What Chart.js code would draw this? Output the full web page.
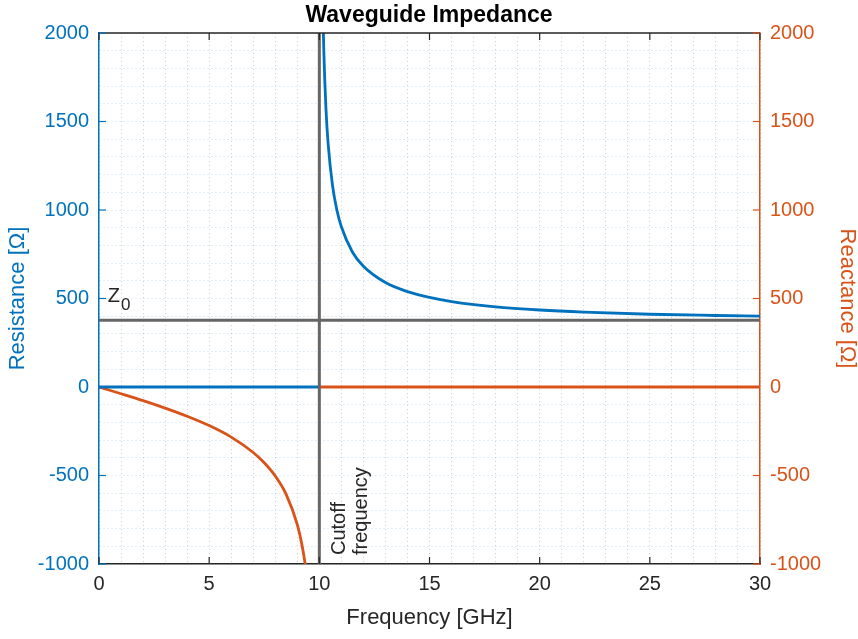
<!DOCTYPE html>
<html>
<head>
<meta charset="utf-8">
<script src="https://cdn.jsdelivr.net/npm/chart.js@4.4.1/dist/chart.umd.min.js"></script>
<style>
  html, body { margin: 0; padding: 0; background: #fff; }
  #wrap { width: 858px; height: 639px; }
</style>
</head>
<body>
<div id="wrap"><canvas id="chart" width="858" height="639"></canvas></div>
<script>
/* ─── Data ─── */
const resFreq  = [0, 10, null, 10.1, 10.15, 10.2, 10.3, 10.4, 10.6, 10.8, 11, 11.5, 12, 13, 14, 15, 16, 18, 20, 22, 25, 28, 30];
const resValue = [0, 0, null, 2700, 2201, 1913, 1574, 1373, 1137, 998, 905, 763, 682, 590, 539, 506, 483, 453, 435, 423, 411, 404, 400];

const reactFreq  = [0, 1, 2, 3, 4, 5, 6, 7, 7.5, 8, 8.5, 9, 9.2, 9.4, 9.6, null, 10, 30];
const reactValue = [0, -38, -77, -119, -165, -218, -283, -370, -428, -503, -608, -778, -885, -1039, -1292, null, 0, 0];

const z0Freq   = [0, 30];
const z0Value  = [377, 377];
const cutFreq  = [10, 10];
const cutValue = [-1000, 2000];

const xTickLabels = [0, 5, 10, 15, 20, 25, 30];
const yTickLabels = [-1000, -500, 0, 500, 1000, 1500, 2000];

const BLUE   = '#0072BD';
const ORANGE = '#D95319';
const GRAY   = '#666666';
const DARK   = '#262626';
const FONT   = "'Liberation Sans', Arial, Helvetica, sans-serif";

function toPoints(xs, ys) {
  return xs.map((x, i) => (x === null ? { x: NaN, y: null } : { x, y: ys[i] }));
}

/* ─── Inward ticks, top box line, text annotations ─── */
const decor = {
  id: 'decor',
  afterDraw(chart) {
    const { ctx, chartArea: a, scales } = chart;
    const sx = scales.x, sy = scales.y;
    const tl = 7;
    ctx.save();

    // top box line
    ctx.strokeStyle = DARK;
    ctx.lineWidth = 1.5;
    ctx.beginPath();
    ctx.moveTo(a.left, a.top);
    ctx.lineTo(a.right, a.top);
    ctx.stroke();

    // x ticks (bottom and top)
    ctx.lineWidth = 1.2;
    xTickLabels.forEach(v => {
      const px = sx.getPixelForValue(v);
      ctx.beginPath();
      ctx.moveTo(px, a.bottom); ctx.lineTo(px, a.bottom - tl);
      ctx.moveTo(px, a.top);    ctx.lineTo(px, a.top + tl);
      ctx.stroke();
    });

    // y ticks, left blue / right orange
    yTickLabels.forEach(v => {
      const py = sy.getPixelForValue(v);
      ctx.strokeStyle = BLUE;
      ctx.beginPath(); ctx.moveTo(a.left, py); ctx.lineTo(a.left + tl, py); ctx.stroke();
      ctx.strokeStyle = ORANGE;
      ctx.beginPath(); ctx.moveTo(a.right, py); ctx.lineTo(a.right - tl, py); ctx.stroke();
    });

    // Z0 label
    const zx = sx.getPixelForValue(0.4);
    const zy = sy.getPixelForValue(377) - 18;
    ctx.fillStyle = DARK;
    ctx.textBaseline = 'alphabetic';
    ctx.textAlign = 'left';
    ctx.font = '20px ' + FONT;
    ctx.fillText('Z', zx, zy);
    const zw = ctx.measureText('Z').width;
    ctx.font = '17px ' + FONT;
    ctx.fillText('0', zx + zw + 1, zy + 8);

    // Cutoff frequency label, rotated
    const cx = sx.getPixelForValue(10) + 26;
    const cy = sy.getPixelForValue(-1000) - 9;
    ctx.translate(cx, cy);
    ctx.rotate(-Math.PI / 2);
    ctx.font = '20px ' + FONT;
    ctx.fillText('Cutoff', 0, 0);
    ctx.fillText('frequency', 0, 22);

    ctx.restore();
  }
};

const lineStyle = {
  pointRadius: 0,
  borderWidth: 2.8,
  fill: false,
  spanGaps: false,
  cubicInterpolationMode: 'monotone'
};

new Chart(document.getElementById('chart'), {
  type: 'line',
  data: {
    datasets: [
      { ...lineStyle, data: toPoints(cutFreq, cutValue), borderColor: GRAY, borderWidth: 3, yAxisID: 'y' },
      { ...lineStyle, data: toPoints(z0Freq, z0Value), borderColor: GRAY, borderWidth: 3, yAxisID: 'y' },
      { ...lineStyle, data: toPoints(resFreq, resValue), borderColor: BLUE, yAxisID: 'y' },
      { ...lineStyle, data: toPoints(reactFreq, reactValue), borderColor: ORANGE, yAxisID: 'y1' }
    ]
  },
  options: {
    responsive: false,
    animation: false,
    layout: { padding: 0 },
    plugins: {
      legend: { display: false },
      tooltip: { enabled: false },
      title: {
        display: true,
        text: 'Waveguide Impedance',
        color: '#000',
        font: { family: FONT, size: 23, weight: 'bold', lineHeight: 1.1 },
        padding: { top: 3, bottom: 4.7 }
      }
    },
    scales: {
      x: {
        type: 'linear',
        min: 0, max: 30,
        afterFit: s => { s.height = 75; },
        ticks: {
          stepSize: 1,
          autoSkip: false,
          maxRotation: 0,
          padding: 8,
          color: DARK,
          font: { family: FONT, size: 20 },
          callback: v => (xTickLabels.includes(v) ? String(v) : '')
        },
        grid: { color: 'rgba(38,38,38,0.22)', lineWidth: 1, drawTicks: false },
        border: { display: true, color: DARK, width: 1.5, dash: [1, 3] },
        title: {
          display: true,
          text: 'Frequency [GHz]',
          color: DARK,
          font: { family: FONT, size: 22, lineHeight: 1 },
          padding: { top: 0, bottom: 10 }
        }
      },
      y: {
        type: 'linear',
        position: 'left',
        min: -1000, max: 2000,
        afterFit: s => { s.width = 99; },
        ticks: {
          stepSize: 100,
          autoSkip: false,
          padding: 10,
          color: BLUE,
          font: { family: FONT, size: 20 },
          callback: v => (yTickLabels.includes(v) ? String(v) : '')
        },
        grid: { color: 'rgba(0,114,189,0.22)', lineWidth: 1, drawTicks: false },
        border: { display: true, color: BLUE, width: 1.5, dash: [1, 3] },
        title: {
          display: true,
          text: 'Resistance [Ω]',
          color: BLUE,
          font: { family: FONT, size: 22, lineHeight: 1 },
          padding: { top: 7, bottom: 0 }
        }
      },
      y1: {
        type: 'linear',
        position: 'right',
        min: -1000, max: 2000,
        afterFit: s => { s.width = 98; },
        ticks: {
          stepSize: 100,
          autoSkip: false,
          padding: 10,
          color: ORANGE,
          font: { family: FONT, size: 20 },
          callback: v => (yTickLabels.includes(v) ? String(v) : '')
        },
        grid: { drawOnChartArea: false, drawTicks: false },
        border: { display: true, color: ORANGE, width: 1.5 },
        title: {
          display: true,
          text: 'Reactance [Ω]',
          color: ORANGE,
          font: { family: FONT, size: 22, lineHeight: 1 },
          padding: { top: 0, bottom: 0 }
        }
      }
    }
  },
  plugins: [decor]
});
</script>
</body>
</html>
